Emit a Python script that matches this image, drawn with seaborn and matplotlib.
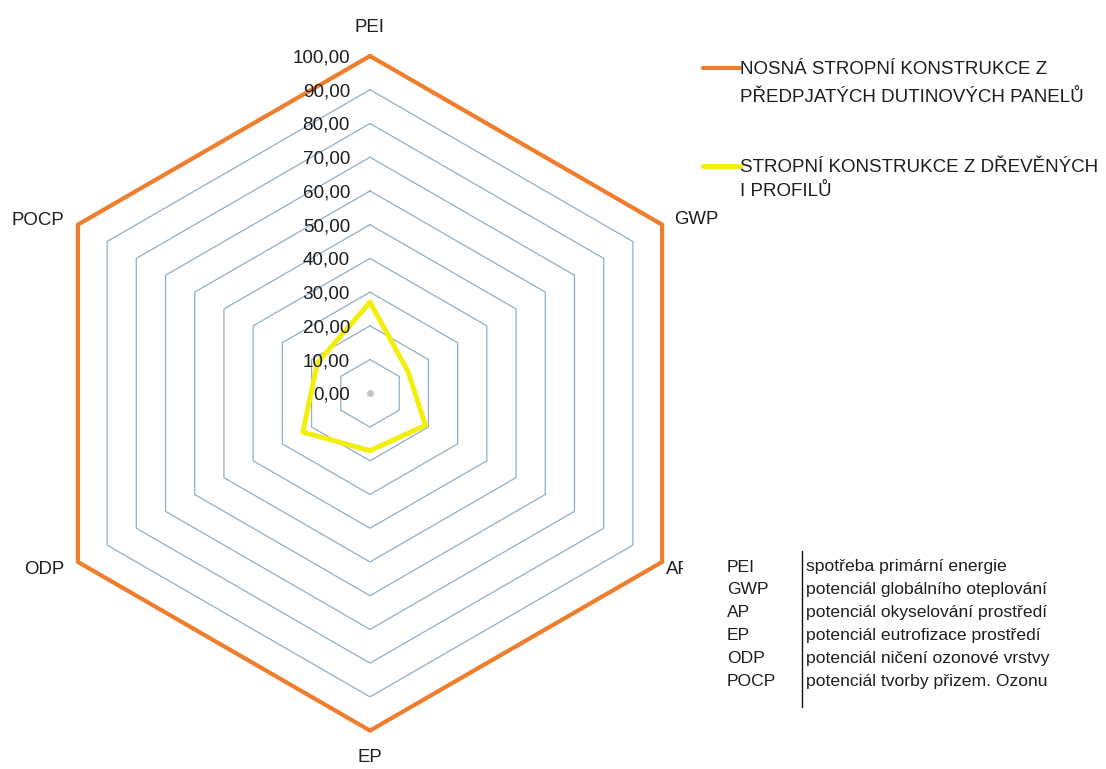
import numpy as np
import pandas as pd
import matplotlib
matplotlib.use("Agg")
import matplotlib.pyplot as plt
from matplotlib.lines import Line2D
from matplotlib.patches import Rectangle
import seaborn as sns

# Impact categories, clockwise from the top
categories = ["PEI", "GWP", "AP", "EP", "ODP", "POCP"]
series_names = [
    "NOSNÁ STROPNÍ KONSTRUKCE Z\nPŘEDPJATÝCH DUTINOVÝCH PANELŮ",
    "STROPNÍ KONSTRUKCE Z DŘEVĚNÝCH\nI PROFILŮ",
]
hollow_core = [100, 100, 100, 100, 100, 100]
timber_i = [27, 13, 19, 17, 23, 18]
ring_values = [0, 10, 20, 30, 40, 50, 60, 70, 80, 90, 100]
ring_labels = ["0,00", "10,00", "20,00", "30,00", "40,00", "50,00",
               "60,00", "70,00", "80,00", "90,00", "100,00"]
abbrevs = ["PEI", "GWP", "AP", "EP", "ODP", "POCP"]
descriptions = [
    "spotřeba primární energie",
    "potenciál globálního oteplování",
    "potenciál okyselování prostředí",
    "potenciál eutrofizace prostředí",
    "potenciál ničení ozonové vrstvy",
    "potenciál tvorby přizem. Ozonu",
]

sns.set_theme(style="white")
plt.rcParams["font.family"] = ["Liberation Sans", "DejaVu Sans"]

ORANGE = "#EF7D2B"
YELLOW = "#F2EF0C"
GRID = "#93AEC4"
TEXT = "#1E1E1E"

W, H = 1106, 769
fig = plt.figure(figsize=(W / 100, H / 100), dpi=100)
fig.patch.set_facecolor("white")

cx, cy, R = 370, 393.3, 337.3
ax = fig.add_axes([(cx - R) / W, (H - cy - R) / H, 2 * R / W, 2 * R / H],
                  projection="polar")
ax.set_theta_offset(np.pi / 2)
ax.set_theta_direction(-1)
ax.set_ylim(0, 100)
ax.grid(False)
ax.spines["polar"].set_visible(False)
ax.set_xticks([])
ax.set_yticks([])
ax.patch.set_alpha(0)

theta = np.linspace(0, 2 * np.pi, len(categories), endpoint=False)
theta_closed = np.append(theta, theta[0])

# hexagonal gridlines
for v in ring_values[1:]:
    ax.plot(theta_closed, [v] * len(theta_closed), color=GRID, lw=0.9,
            zorder=1, clip_on=False)

# small mark at the centre
ax.plot([0], [0], marker="o", ms=5, color="#C4C4C4", mec="none", zorder=1)


def closed_frame(values, name):
    return pd.DataFrame({
        "theta": theta_closed,
        "value": list(values) + [values[0]],
        "series": name,
    })


df = pd.concat([closed_frame(hollow_core, series_names[0]),
                closed_frame(timber_i, series_names[1])], ignore_index=True)

for name, color, lw in [(series_names[0], ORANGE, 3.0), (series_names[1], YELLOW, 3.6)]:
    sub = df[df["series"] == name]
    sns.lineplot(data=sub, x="theta", y="value", sort=False, estimator=None,
                 color=color, lw=lw, ax=ax, legend=False, zorder=3)

for ln in ax.lines:
    ln.set_clip_on(False)
    ln.set_solid_joinstyle("round")
ax.set_xlabel("")
ax.set_ylabel("")

# radial value labels, left of the vertical axis
for v, lab in zip(ring_values, ring_labels):
    ax.annotate(lab, xy=(0, v), xytext=(-20, -2), textcoords="offset pixels",
                ha="right", va="center", fontsize=13.6, color=TEXT,
                annotation_clip=False, zorder=4)

# category labels around the outer hexagon
label_offsets = {
    "PEI": ((0, 28), "center"),
    "GWP": ((12, 5), "left"),
    "AP": ((4, -8), "left"),
    "EP": ((0, -27), "center"),
    "ODP": ((-14, -8), "right"),
    "POCP": ((-14, 4), "right"),
}
for t, cat in zip(theta, categories):
    (dx, dy), ha = label_offsets[cat]
    ax.annotate(cat, xy=(t, 100), xytext=(dx, dy), textcoords="offset pixels",
                ha=ha, va="center", fontsize=13.4, color=TEXT,
                annotation_clip=False)

# legend
def fx(px):
    return px / W


def fy(py):
    return 1 - py / H


legend_rows = [
    (ORANGE, 3.0, 68, [(69, "NOSNÁ STROPNÍ KONSTRUKCE Z"), (97, "PŘEDPJATÝCH DUTINOVÝCH PANELŮ")]),
    (YELLOW, 3.6, 166, [(168, "STROPNÍ KONSTRUKCE Z DŘEVĚNÝCH"), (192, "I PROFILŮ")]),
]
for color, lw, ly, lines in legend_rows:
    fig.add_artist(Line2D([fx(703), fx(740)], [fy(ly), fy(ly)],
                          transform=fig.transFigure, color=color, lw=lw))
    for ty, txt in lines:
        fig.text(fx(740), fy(ty), txt, ha="left", va="center",
                 fontsize=13.5, color=TEXT)

# abbreviation table
fig.add_artist(Rectangle((fx(683), fy(713)), fx(1100) - fx(683), fy(546) - fy(713),
                         transform=fig.transFigure, facecolor="white",
                         edgecolor="none", zorder=2))
fig.add_artist(Line2D([fx(801.5), fx(801.5)], [fy(551), fy(707)],
                      transform=fig.transFigure, color="#111111", lw=1.0, zorder=3))
for i, (ab, desc) in enumerate(zip(abbrevs, descriptions)):
    y = 567 + 22.9 * i
    fig.text(fx(727), fy(y), ab, ha="left", va="center", fontsize=12.6,
             color=TEXT, zorder=4)
    fig.text(fx(806), fy(y), desc, ha="left", va="center", fontsize=12.6,
             color=TEXT, zorder=4)

fig.savefig("out.png", dpi=100, facecolor="white")
